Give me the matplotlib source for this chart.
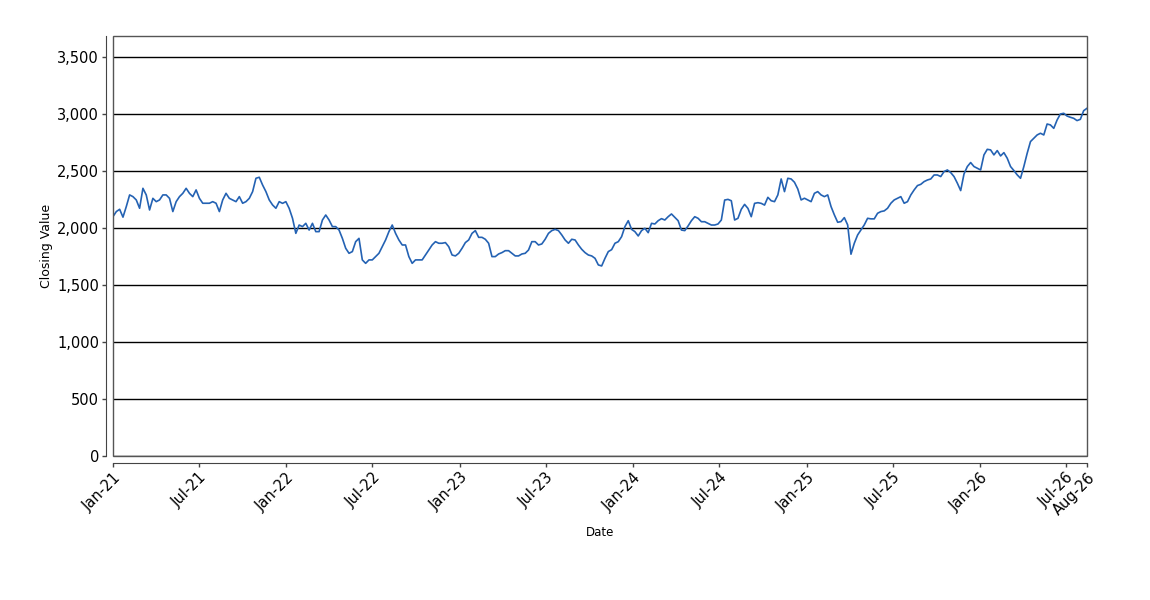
import numpy as np
import pandas as pd
import matplotlib
matplotlib.use("Agg")
import matplotlib.pyplot as plt
import matplotlib.dates as mdates
from matplotlib.ticker import FuncFormatter
from matplotlib.patches import Rectangle

# weekly closing values (Jan 2021 - Aug 2026)
closing_2021 = [2100, 2144, 2164, 2095, 2188, 2290, 2275, 2246, 2173, 2348,
                2290, 2158, 2260, 2231, 2246, 2290, 2290, 2260, 2144, 2231,
                2275, 2304, 2348, 2304, 2275, 2334, 2260, 2217, 2217, 2217,
                2231, 2217, 2144, 2246, 2304, 2260, 2246, 2231, 2275, 2217,
                2231, 2260, 2319, 2436, 2445, 2377, 2319, 2246, 2202, 2173,
                2231]
closing_2022 = [2216, 2231, 2172, 2085, 1953, 2026, 2012, 2041, 1982, 2041,
                1968, 1968, 2070, 2114, 2070, 2012, 2012, 1982, 1909, 1822,
                1778, 1793, 1880, 1909, 1720, 1690, 1720, 1720, 1749, 1778,
                1836, 1895, 1968, 2026, 1953, 1895, 1851, 1851, 1749, 1690,
                1720, 1720, 1720, 1763, 1807, 1851, 1880, 1866, 1866]
closing_2023 = [1872, 1836, 1763, 1755, 1778, 1822, 1872, 1895, 1953, 1977,
                1918, 1918, 1901, 1866, 1749, 1749, 1772, 1784, 1801, 1801,
                1778, 1755, 1755, 1772, 1778, 1807, 1880, 1880, 1851, 1860,
                1901, 1953, 1977, 1988, 1977, 1939, 1895, 1866, 1901, 1895,
                1851, 1813, 1784, 1763, 1755, 1734, 1676, 1667, 1734, 1793]
closing_2024 = [1810, 1866, 1880, 1924, 2012, 2064, 1988, 1968, 1930, 1977,
                1997, 1959, 2041, 2035, 2064, 2082, 2070, 2099, 2123, 2093,
                2064, 1982, 1977, 2018, 2064, 2099, 2085, 2055, 2055, 2041,
                2026, 2026, 2035, 2070, 2245, 2251, 2239, 2070, 2085, 2164,
                2207, 2172, 2099, 2216, 2222, 2216, 2201, 2269, 2239, 2231]
closing_2025 = [2290, 2430, 2319, 2436, 2430, 2401, 2342, 2246, 2261, 2246,
                2231, 2304, 2319, 2290, 2275, 2290, 2188, 2115, 2050, 2056,
                2091, 2027, 1770, 1866, 1939, 1983, 2027, 2085, 2080, 2080,
                2129, 2144, 2150, 2173, 2217, 2246, 2260, 2275, 2217, 2231,
                2290, 2334, 2372, 2383, 2407, 2421, 2430, 2465, 2465]
closing_2026 = [2451, 2495, 2509, 2486, 2451, 2393, 2328, 2474, 2539, 2574,
                2539, 2524, 2509, 2641, 2690, 2685, 2641, 2679, 2632, 2661,
                2612, 2539, 2504, 2466, 2436, 2539, 2655, 2758, 2787, 2816,
                2831, 2816, 2912, 2904, 2874, 2947, 3000, 3006, 2982, 2971,
                2962, 2942, 2953, 3029, 3050]

closing = (closing_2021 + closing_2022 + closing_2023 + closing_2024
           + closing_2025 + closing_2026)
dates = pd.date_range("2021-01-01", periods=len(closing), freq="7D")

y_ticks = [0, 500, 1000, 1500, 2000, 2500, 3000, 3500]
x_tick_dates = list(pd.date_range("2021-01-01", "2026-07-01", freq="6MS")) + [dates[-1]]

fig = plt.figure(figsize=(11.5, 6), dpi=100)
ax = fig.add_axes([113 / 1150, 144 / 600, 974 / 1150, 420 / 600])

for v in y_ticks:
    ax.axhline(v, color="black", lw=1.0, zorder=1)

ax.plot(dates, closing, color="#2462b3", lw=1.2, zorder=3)

ax.set_xlim(dates[0], dates[-1])
ax.set_ylim(0, 3684)
ax.set_yticks(y_ticks)
ax.yaxis.set_major_formatter(FuncFormatter(lambda v, p: f"{int(v):,}"))
ax.set_xticks(x_tick_dates)
ax.xaxis.set_major_formatter(mdates.DateFormatter("%b-%y"))

# axis lines sit a little outside the plot frame
for side in ["top", "right"]:
    ax.spines[side].set_visible(False)
for side in ["left", "bottom"]:
    ax.spines[side].set_position(("outward", 5))
    ax.spines[side].set_color("#444444")
ax.add_patch(Rectangle((0, 0), 1, 1, transform=ax.transAxes, fill=False,
                       edgecolor="#555555", lw=1.0, clip_on=False, zorder=4))

ax.tick_params(axis="both", length=3, width=1, color="#444444",
               labelsize=10.5, pad=2)
plt.setp(ax.get_xticklabels(), rotation=45, ha="right", rotation_mode="anchor")

ax.set_xlabel("Date", fontsize=8.5, labelpad=6)
ax.set_ylabel("Closing Value", fontsize=9, labelpad=3)

fig.savefig("out.png", dpi=100)
